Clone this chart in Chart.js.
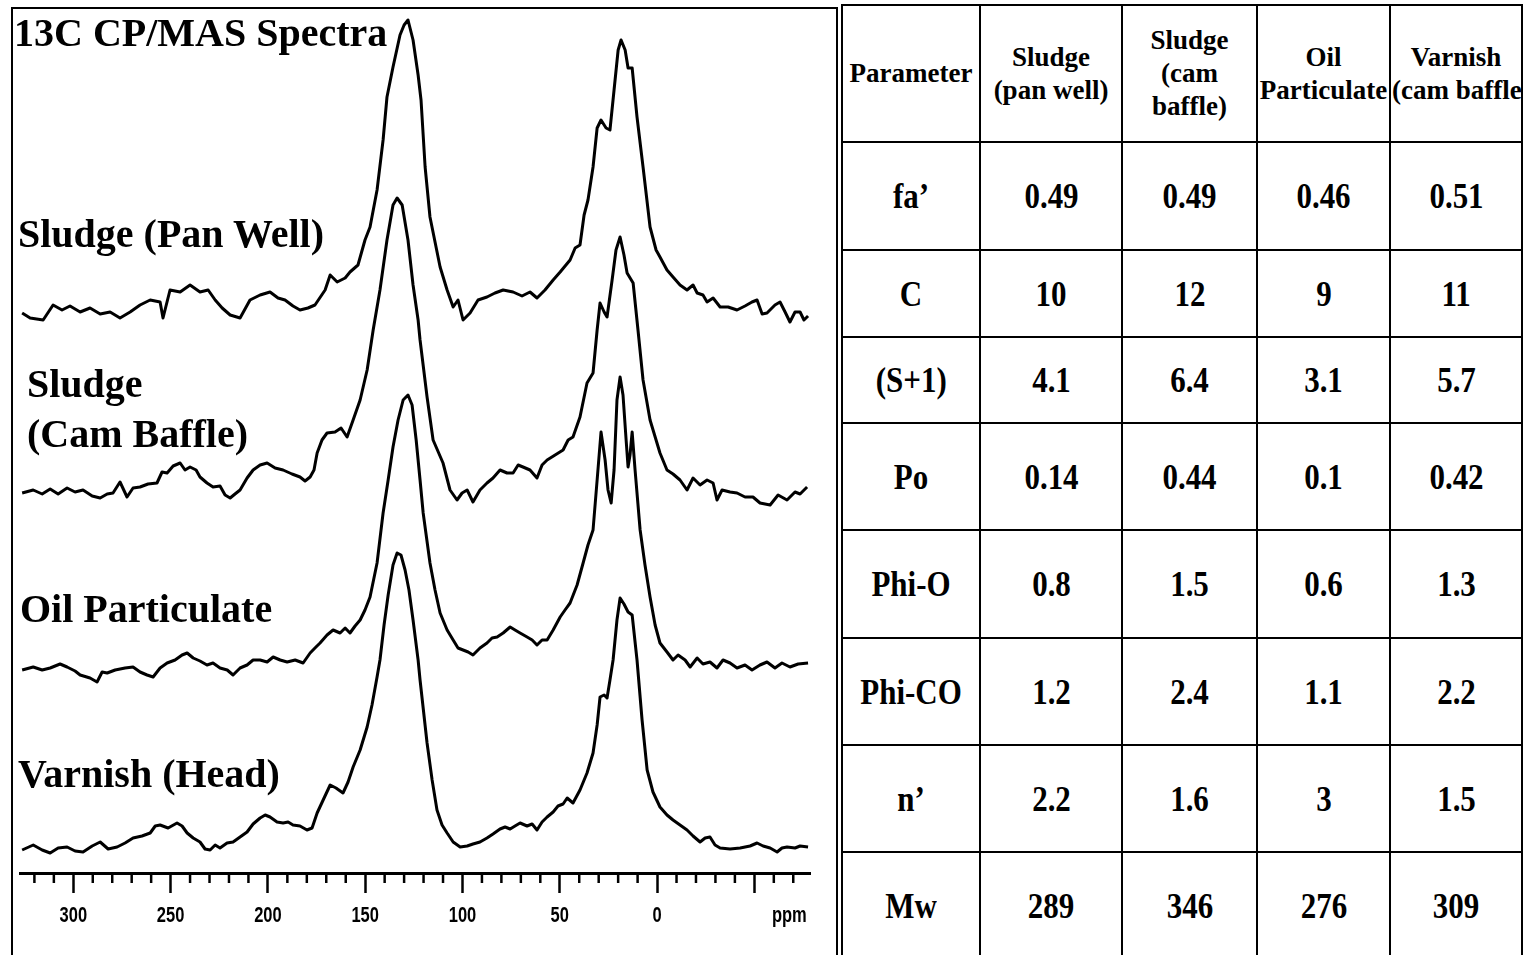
<!DOCTYPE html>
<html>
<head>
<meta charset="utf-8">
<script src="https://cdn.jsdelivr.net/npm/chart.js@4.4.1/dist/chart.umd.min.js"></script>
<style>
  body { margin: 0; background: #fff; width: 1528px; height: 955px; overflow: hidden; position: relative; }
  #panel { position: absolute; left: 11px; top: 7px; width: 827px; height: 960px; box-sizing: border-box;
           border-left: 2px solid #000; border-top: 2px solid #000; border-right: 2px solid #000; }
  #spectra { position: absolute; left: 0; top: 0; }
  .lbl { position: absolute; font-family: 'Liberation Serif', 'Times New Roman', serif; font-weight: bold;
         font-size: 40px; line-height: 40px; color: #000; white-space: nowrap; }
  #tbl { position: absolute; left: 841px; top: 4px; border-collapse: collapse; table-layout: fixed; width: 680px;
         font-family: 'Liberation Serif', 'Times New Roman', serif; font-weight: bold; color: #000; }
  #tbl td { border: 2px solid #000; text-align: center; vertical-align: middle; padding: 0; overflow: hidden; }
  #tbl tr.head td { font-size: 27px; line-height: 33px; }
  #tbl tr.body td { font-size: 36px; }
  #tbl tr.body td span { display: inline-block; transform: scaleX(0.86); }
  .clip { white-space: nowrap; text-align: left; padding-left: 1px; }
</style>
</head>
<body>
<div id="panel"></div>
<canvas id="spectra" width="836" height="955"></canvas>
<div class="lbl" style="left:14px;top:13px">13C CP/MAS Spectra</div>
<div class="lbl" style="left:18px;top:214px">Sludge (Pan Well)</div>
<div class="lbl" style="left:27px;top:364px">Sludge</div>
<div class="lbl" style="left:27px;top:414px">(Cam Baffle)</div>
<div class="lbl" style="left:20px;top:589px">Oil Particulate</div>
<div class="lbl" style="left:18px;top:754px">Varnish (Head)</div>
<table id="tbl"></table>
<script>
// ---- spectra: chemical shift (ppm) and stacked intensity (arb.) ----
var panWellPpm = [326.3,322.2,315.5,310.4,305.8,301.7,296.5,291.4,286.2,281.1,
  276.0,270.8,265.7,260.5,255.4,253.9,250.3,245.1,240.0,234.9,
  230.7,227.1,223.5,219.4,214.3,209.2,204.0,198.9,194.8,191.2,
  187.1,183.5,179.4,175.8,170.6,168.0,164.4,160.3,157.8,153.7,
  150.1,147.5,143.9,140.8,138.8,135.7,132.1,130.0,128.0,125.4,
  122.8,121.3,119.2,116.7,111.5,107.9,104.8,102.3,99.7,96.1,
  92.0,87.4,83.3,79.1,74.0,69.4,65.3,61.7,57.6,53.4,
  49.8,44.7,42.1,39.6,37.5,35.5,32.9,30.8,28.8,26.2,
  24.2,22.1,20.0,18.5,16.4,14.9,12.8,10.3,7.2,3.6,
  0.5,-1.5,-5.1,-8.2,-11.8,-15.4,-18.5,-20.6,-23.6,-25.7,
  -28.8,-32.4,-36.5,-41.1,-45.2,-48.8,-51.4,-54.0,-56.5,-60.6,
  -63.2,-65.8,-68.3,-70.9,-73.5,-75.5,-77.6];
var panWellInt = [560,555,553,568,563,567,561,565,559,561,
  555,561,568,573,571,555,583,581,588,581,
  583,573,565,558,555,573,578,581,575,573,
  567,563,565,568,583,598,591,595,601,608,
  633,646,683,733,776,806,838,848,853,833,
  798,773,706,656,606,583,566,573,553,560,
  573,576,580,583,581,577,581,575,583,593,
  601,613,625,628,658,673,706,745,753,745,
  743,783,823,833,823,805,805,756,706,646,
  623,616,603,596,588,583,588,580,578,571,
  575,566,566,563,567,571,573,559,560,568,
  571,561,551,561,561,553,557];

var camBafflePpm = [326.3,320.6,316.0,311.9,307.8,303.2,299.1,295.0,290.3,286.2,
  282.6,279.6,276.0,272.4,269.3,265.7,261.6,257.0,254.4,251.8,
  248.7,245.1,242.6,240.0,236.9,234.9,231.3,228.2,224.6,222.0,
  219.4,216.9,214.3,210.7,207.6,204.0,200.4,196.3,192.2,187.6,
  183.5,180.9,178.3,176.3,174.7,172.2,169.6,165.5,162.4,159.3,
  156.2,152.6,149.0,145.9,142.4,138.8,135.7,133.6,131.0,128.0,
  125.4,122.8,121.8,118.2,115.1,110.0,106.4,102.8,100.2,97.6,
  94.6,91.0,87.4,84.3,80.7,77.1,74.0,71.4,68.9,65.3,
  61.7,59.1,56.5,52.4,48.3,45.7,43.2,39.6,36.0,32.9,
  30.8,29.3,27.2,25.7,23.1,21.1,19.0,17.0,15.4,12.3,
  9.8,7.2,3.6,-1.5,-5.1,-8.2,-11.8,-15.4,-18.5,-22.1,
  -25.7,-28.8,-30.8,-33.4,-37.5,-41.1,-45.2,-49.3,-52.9,-58.1,
  -62.2,-66.8,-70.9,-73.5,-77.1];
var camBaffleInt = [380,383,379,384,379,385,381,383,377,375,
  379,380,391,376,385,386,389,390,401,400,
  407,410,403,406,403,396,390,386,387,378,
  375,379,383,395,403,408,410,405,403,399,
  396,392,396,403,420,433,440,441,445,436,
  453,473,503,543,583,633,668,675,668,633,
  588,553,533,476,433,410,383,373,380,383,
  371,383,390,395,403,400,400,408,406,403,
  395,408,413,418,423,433,436,456,490,500,
  543,570,561,556,593,623,636,618,600,590,
  543,493,453,420,403,399,393,383,395,388,
  393,390,373,383,381,380,376,376,370,368,
  378,373,381,379,386];

var oilPpm = [326.3,320.6,316.0,311.9,306.8,303.2,299.1,296.5,291.4,287.8,
  285.2,282.6,278.5,273.4,269.3,265.7,262.1,259.0,255.4,251.8,
  247.7,244.1,241.5,238.4,234.9,231.3,228.2,224.6,220.9,217.9,
  214.3,210.7,207.6,204.0,200.4,197.3,193.7,190.1,186.0,181.9,
  178.3,175.8,173.2,169.6,166.5,162.9,160.3,157.8,155.2,152.6,
  150.1,147.5,143.9,140.8,138.2,135.7,133.1,130.5,128.0,125.9,
  123.8,121.8,120.2,116.7,114.1,111.5,107.9,104.8,102.3,99.7,
  97.1,94.6,91.0,87.4,84.8,82.2,79.1,75.5,73.0,70.4,
  66.8,64.2,61.7,59.1,56.5,53.4,49.8,47.3,44.7,41.1,
  38.0,35.5,32.9,30.8,28.8,26.7,25.2,23.6,22.1,20.6,
  19.0,17.5,15.9,14.9,13.9,12.8,11.3,8.7,6.2,3.6,
  1.0,-1.5,-5.1,-8.2,-10.8,-14.4,-17.0,-20.6,-23.6,-27.2,
  -30.8,-33.9,-37.5,-41.1,-45.2,-48.8,-52.9,-56.5,-60.6,-64.2,
  -68.3,-72.5,-77.6];
var oilInt = [203,206,203,205,209,206,202,198,195,191,
  201,200,203,205,206,201,198,196,205,210,
  213,218,220,215,212,208,210,205,203,198,
  205,208,213,213,211,216,213,211,213,210,
  220,225,230,238,243,240,245,240,247,253,
  263,276,310,360,393,426,453,473,478,468,
  433,393,360,310,283,260,243,233,225,223,
  221,218,225,230,235,236,240,246,243,240,
  236,233,228,233,233,243,256,263,270,288,
  310,328,343,393,441,413,383,370,403,473,
  496,478,433,406,418,441,403,343,308,276,
  248,230,221,213,218,213,206,215,209,211,
  205,213,210,205,208,203,208,211,205,210,
  206,209,210];

var varnishPpm = [326.3,320.6,316.0,311.9,307.8,303.2,299.1,295.0,290.3,286.2,
  282.1,277.5,273.4,269.3,264.7,260.5,257.9,255.4,251.3,246.7,
  244.1,241.5,238.4,234.9,232.3,229.7,227.1,224.6,221.0,217.9,
  214.3,210.7,207.6,204.0,201.4,198.9,195.3,192.2,189.6,187.1,
  183.5,179.9,177.3,174.7,171.6,168.0,165.0,161.4,158.8,156.2,
  152.6,149.0,146.5,143.9,142.4,140.3,138.2,135.7,133.6,131.6,
  129.5,127.5,125.4,122.8,121.8,118.2,115.6,113.1,110.5,107.9,
  104.8,101.2,97.6,94.6,91.0,87.4,84.3,80.7,78.1,75.5,
  73.0,70.4,66.8,64.2,61.7,59.1,56.5,53.4,50.9,48.3,
  46.2,43.2,39.6,36.0,32.9,30.8,29.3,27.2,25.7,24.2,
  22.6,20.6,19.0,17.0,14.9,12.8,10.3,7.7,5.1,2.1,
  -1.5,-5.1,-8.2,-11.8,-15.4,-18.5,-22.1,-24.7,-27.2,-29.8,
  -32.4,-37.5,-42.7,-47.8,-51.4,-54.5,-58.1,-61.7,-64.2,-66.8,
  -70.9,-73.5,-77.6];
var varnishInt = [23,28,23,20,25,26,22,21,27,31,
  24,26,30,35,37,40,47,48,45,50,
  47,40,35,31,24,23,28,25,30,31,
  36,41,49,55,58,56,51,50,51,48,
  47,43,45,60,73,88,85,80,91,106,
  123,146,168,196,213,248,278,308,320,318,
  303,283,253,213,193,130,93,63,48,40,
  31,26,27,29,31,35,39,44,46,44,
  47,50,47,49,43,51,56,61,67,69,
  75,70,83,100,120,148,176,178,175,193,
  213,253,275,269,261,258,213,153,103,81,
  66,58,53,48,43,37,31,35,36,28,
  25,24,25,27,30,27,25,21,25,26,
  25,27,26];

// axis: shift range shown (ppm), tick marks every 10 ppm, and where "ppm" sits
var ppmMin = -78.6, ppmMax = 327.4;
var tickValues = [320,310,300,290,280,270,260,250,240,230,220,210,200,190,180,170,160,150,140,130,
  120,110,100,90,80,70,60,50,40,30,20,10,0,-10,-20,-30,-40,-50,-60,-68,-70];
var unitTick = -68;

// ---- table ----
var tableHeaders = [['Parameter'], ['Sludge', '(pan well)'], ['Sludge', '(cam', 'baffle)'], ['Oil', 'Particulate'], ['Varnish', '(cam baffle)']];
var paramNames = ['fa’', 'C', '(S+1)', 'Po', 'Phi-O', 'Phi-CO', 'n’', 'Mw'];
var sludgePanWell = ['0.49', '10', '4.1', '0.14', '0.8', '1.2', '2.2', '289'];
var sludgeCamBaffle = ['0.49', '12', '6.4', '0.44', '1.5', '2.4', '1.6', '346'];
var oilParticulate = ['0.46', '9', '3.1', '0.1', '0.6', '1.1', '3', '276'];
var varnishCamBaffle = ['0.51', '11', '5.7', '0.42', '1.3', '2.2', '1.5', '309'];


function toPoints(xs, ys) {
    var pts = [];
    for (var i = 0; i < xs.length; i++) {
        pts.push({ x: xs[i], y: ys[i] });
    }
    return pts;
}

function traceSet(xs, ys) {
    return {
        data: toPoints(xs, ys),
        borderColor: '#000',
        borderWidth: 3,
        pointRadius: 0,
        tension: 0,
        borderJoinStyle: 'round',
        fill: false
    };
}

function tickLabel(value) {
    if (value === unitTick) return 'ppm';
    if (value % 50 === 0 && value >= 0) return String(value);
    return '';
}

// short ticks every 10 ppm and the narrow tick numbers
// (the long ticks at 50 ppm come from the axis itself)
var axisExtras = {
    id: 'axisExtras',
    afterDraw: function(chart) {
        var sx = chart.scales.x;
        var ctx = chart.ctx;
        var y0 = chart.chartArea.bottom;
        ctx.save();
        ctx.strokeStyle = '#000';
        ctx.fillStyle = '#000';
        ctx.lineWidth = 2.5;
        ctx.font = "bold 22px 'Liberation Sans', Arial, sans-serif";
        ctx.textAlign = 'center';
        ctx.textBaseline = 'middle';
        sx.ticks.forEach(function(t) {
            var px = sx.getPixelForValue(t.value);
            if (t.value % 10 === 0 && t.value % 50 !== 0) {
                ctx.beginPath();
                ctx.moveTo(px, y0);
                ctx.lineTo(px, y0 + 10);
                ctx.stroke();
            }
            var txt = tickLabel(t.value);
            if (txt) {
                ctx.save();
                ctx.translate(px, y0 + 43);
                ctx.scale(0.75, 1);
                ctx.fillText(txt, 0, 0);
                ctx.restore();
            }
        });
        ctx.restore();
    }
};

new Chart(document.getElementById('spectra'), {
    type: 'line',
    data: {
        datasets: [
            traceSet(panWellPpm, panWellInt),
            traceSet(camBafflePpm, camBaffleInt),
            traceSet(oilPpm, oilInt),
            traceSet(varnishPpm, varnishInt)
        ]
    },
    options: {
        responsive: false,
        animation: false,
        layout: { padding: { left: 20, right: 26, top: 8, bottom: 0 } },
        plugins: { legend: { display: false }, tooltip: { enabled: false } },
        scales: {
            x: {
                type: 'linear',
                reverse: true,
                min: ppmMin,
                max: ppmMax,
                afterBuildTicks: function(scale) {
                    scale.ticks = tickValues.map(function(v) { return { value: v }; });
                },
                afterFit: function(scale) { scale.height = 82; },
                border: { display: true, color: '#000', width: 3 },
                grid: {
                    drawOnChartArea: false,
                    drawTicks: true,
                    tickLength: 20,
                    tickWidth: 2.5,
                    tickColor: function(c) {
                        return (c.tick && c.tick.value % 50 === 0) ? '#000' : 'rgba(0,0,0,0)';
                    }
                },
                ticks: { display: false, autoSkip: false }
            },
            y: { display: false, min: 0, max: 865 }
        }
    },
    plugins: [axisExtras]
});

// build the table
var table = document.getElementById('tbl');
var colWidths = [138, 142, 135, 133, 132];
var rowHeights = [137, 108, 87, 86, 107, 108, 107, 107, 108];
var cg = document.createElement('colgroup');
colWidths.forEach(function(w) {
    var col = document.createElement('col');
    col.style.width = w + 'px';
    cg.appendChild(col);
});
table.appendChild(cg);

var hr = table.insertRow(0);
hr.className = 'head';
hr.style.height = rowHeights[0] + 'px';
for (var h = 0; h < tableHeaders.length; h++) {
    var cell = hr.insertCell(h);
    var lines = tableHeaders[h];
    for (var k = 0; k < lines.length; k++) {
        var d = document.createElement('div');
        d.textContent = lines[k];
        if (h === tableHeaders.length - 1 && k === 1) d.className = 'clip';
        cell.appendChild(d);
    }
}

var columns = [paramNames, sludgePanWell, sludgeCamBaffle, oilParticulate, varnishCamBaffle];
for (var r = 0; r < paramNames.length; r++) {
    var row = table.insertRow(r + 1);
    row.className = 'body';
    row.style.height = rowHeights[r + 1] + 'px';
    for (var c = 0; c < columns.length; c++) {
        var td = row.insertCell(c);
        var sp = document.createElement('span');
        sp.textContent = columns[c][r];
        td.appendChild(sp);
    }
}
</script>
</body>
</html>
